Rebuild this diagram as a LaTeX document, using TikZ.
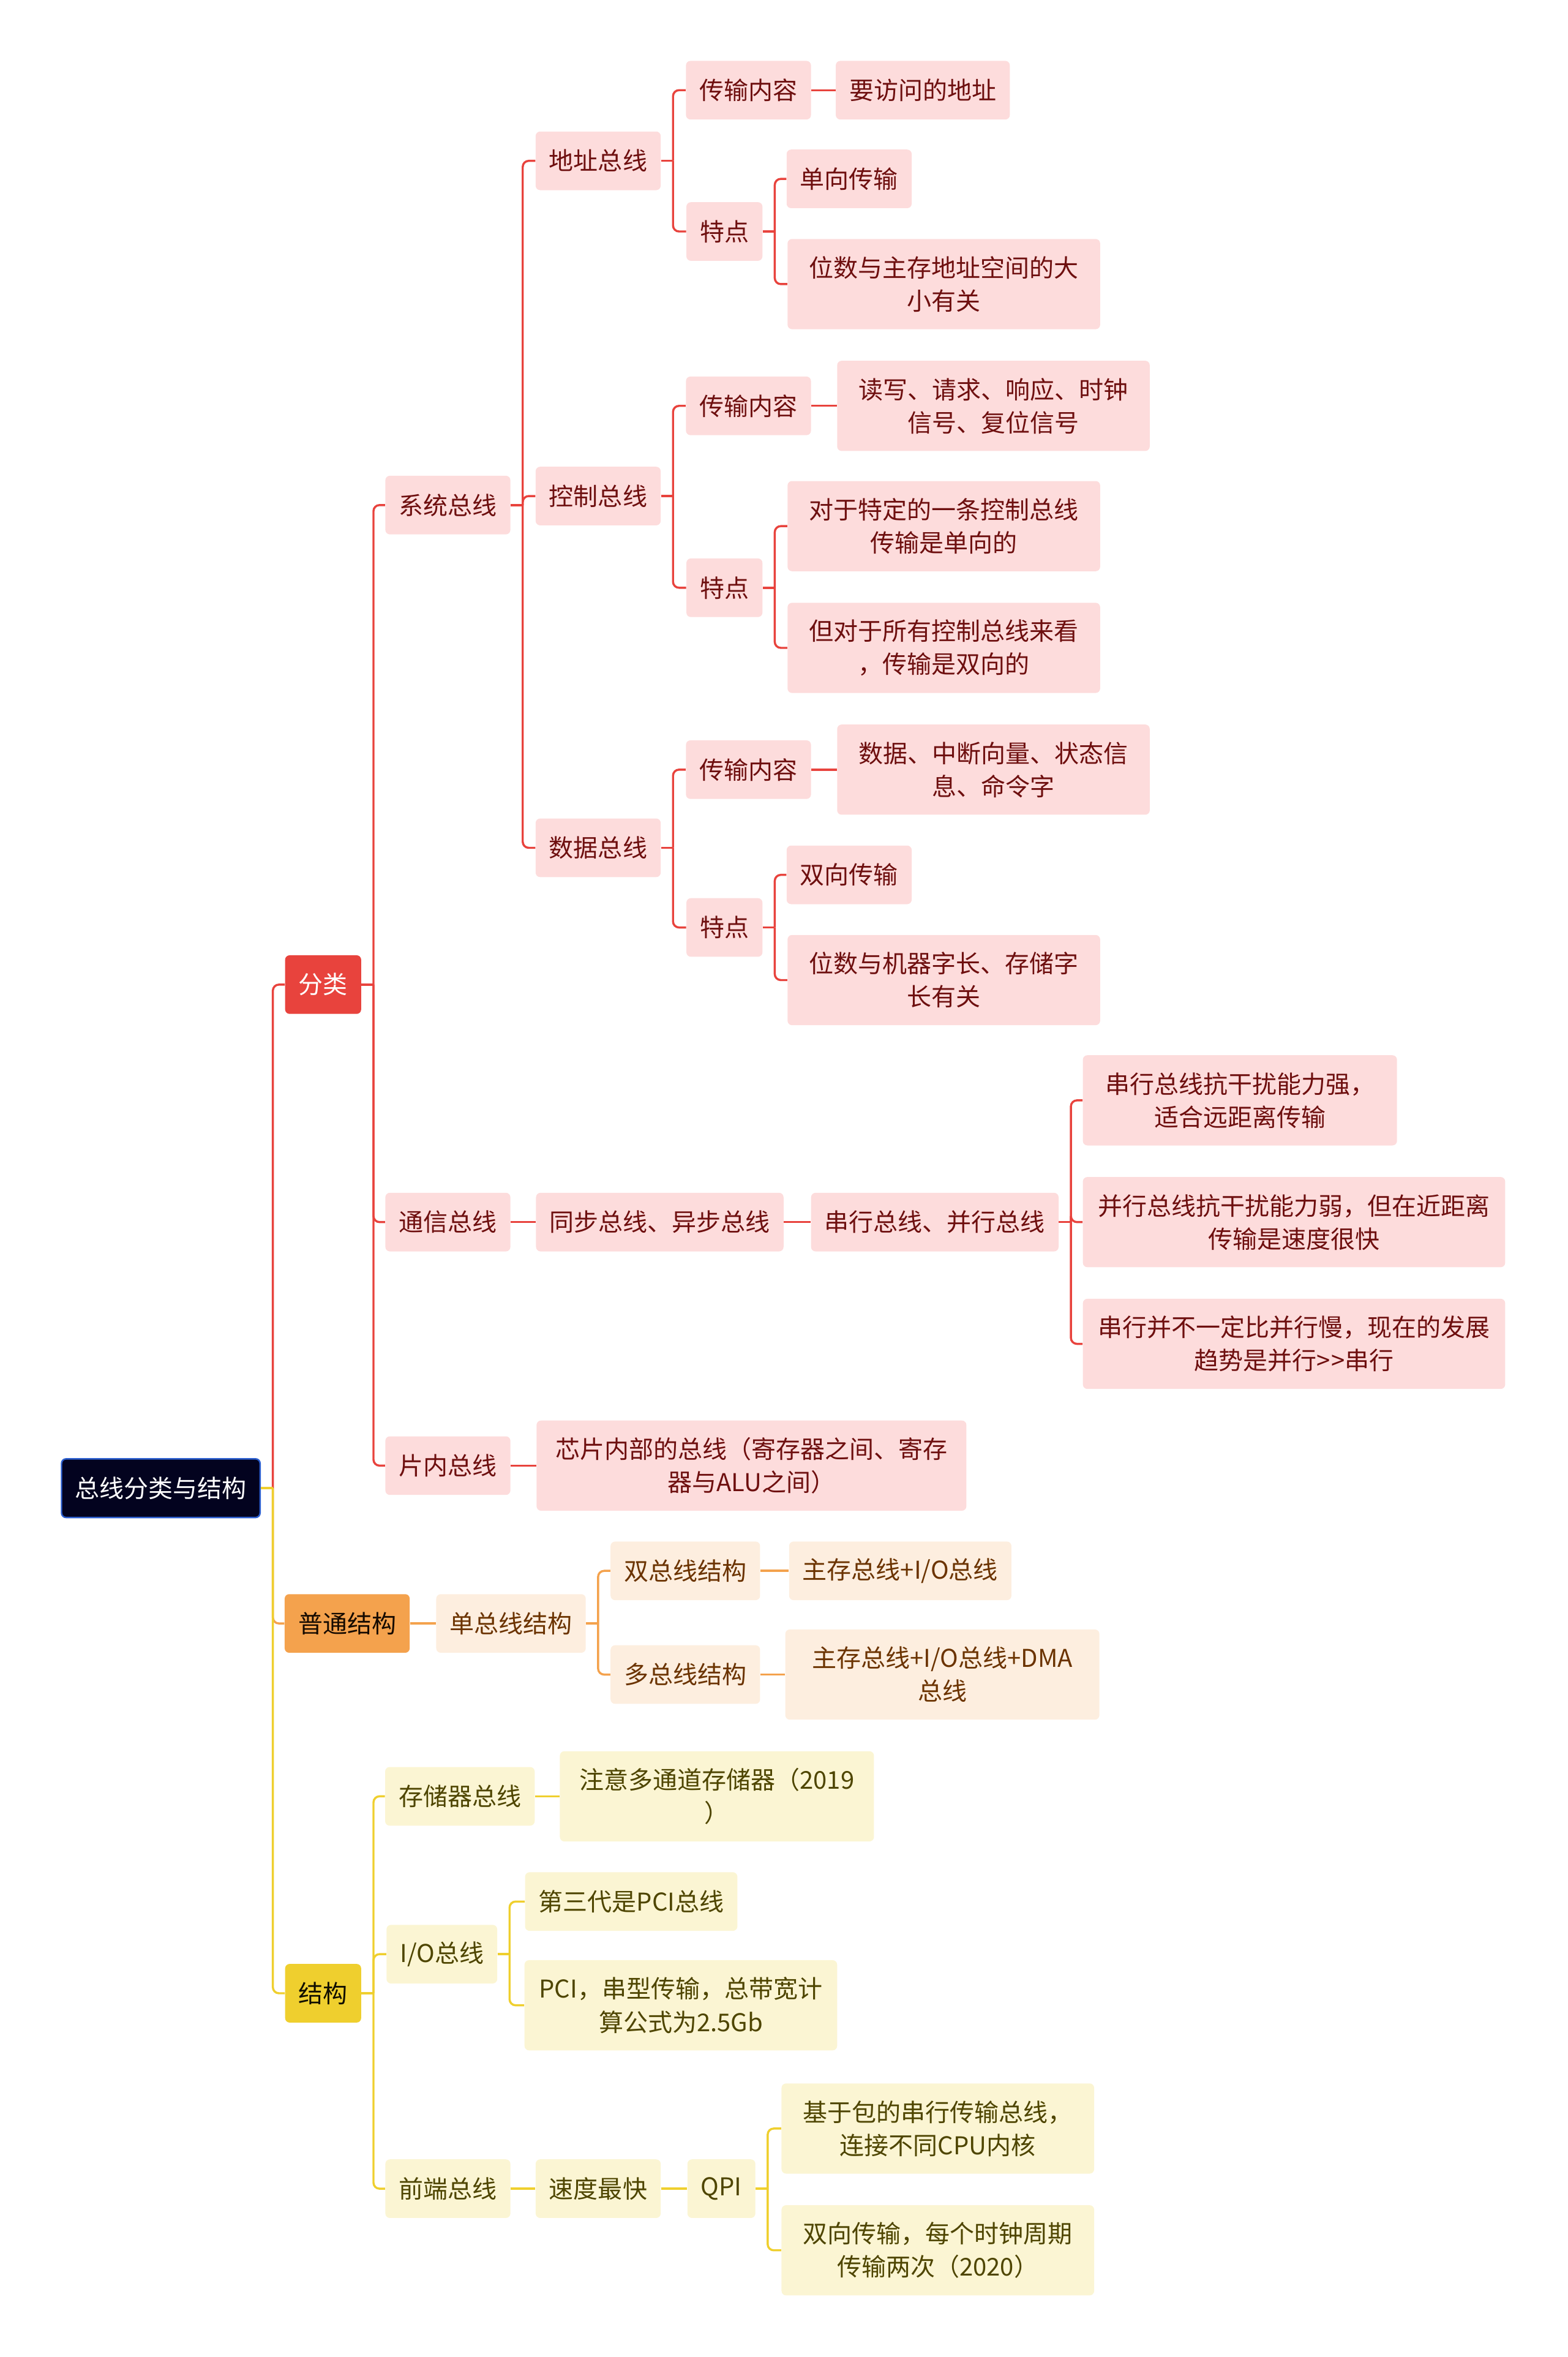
\documentclass[tikz,border=0pt]{standalone}
\usepackage{fontspec}
\setmainfont{Noto Sans CJK SC}
\usepackage{tikz}

\definecolor{rootbg}{HTML}{03031F}
\definecolor{rootbd}{HTML}{2C5FCF}
\definecolor{rmain}{HTML}{E8433D}
\definecolor{rfill}{HTML}{FDDCDC}
\definecolor{rtext}{HTML}{6E0F0F}
\definecolor{omain}{HTML}{F4A24D}
\definecolor{ofill}{HTML}{FDEEDF}
\definecolor{otext}{HTML}{6B3300}
\definecolor{ymain}{HTML}{EFCF2E}
\definecolor{yfill}{HTML}{FBF5D3}
\definecolor{ytext}{HTML}{4E4500}

% 父节点右侧短线 + 圆角折线到子节点
\newcommand\branchline[3]{%
  \draw[#3] (#1.east) -- ([xshift=8pt]#1.east);
  \draw[#3,rounded corners=4pt] ([xshift=8pt]#1.east) |- (#2.west);}

\begin{document}
\begin{tikzpicture}[x=1pt,y=-1pt,
    font=\fontsize{16.3}{22}\selectfont,
    box/.style={rounded corners=3pt, inner xsep=9pt, inner ysep=3pt, minimum height=39pt},
    rbox/.style={box, fill=rfill, text=rtext},
    obox/.style={box, fill=ofill, text=otext},
    ybox/.style={box, fill=yfill, text=ytext},
    twol/.style={align=center, minimum height=60pt, minimum width=#1},
    rline/.style={rmain, line width=1.4pt},
    oline/.style={omain, line width=1.4pt},
    yline/.style={ymain, line width=1.4pt}]
  \useasboundingbox (0,0) rectangle (1043,1568);

  % 根节点与三个一级分支
  \node[box, fill=rootbg, draw=rootbd, line width=1pt, text=white] (root) at (107,990) {总线分类与结构};
  \node[box, fill=rmain, text=white] (fl) at (215,655) {分类};
  \node[box, fill=omain, text=black!80!otext] (pt) at (231,1080) {普通结构};
  \node[box, fill=ymain, text=black!80!ytext] (jg) at (215,1326) {结构};

  % 分类：系统总线
  \node[rbox] (xt) at (298,336) {系统总线};
  \node[rbox] (dz) at (398,107) {地址总线};
  \node[rbox] (dzA) at (498,60) {传输内容};
  \node[rbox] (dzA1) at (614,60) {要访问的地址};
  \node[rbox] (dzB) at (482,154) {特点};
  \node[rbox] (dzB1) at (565,119) {单向传输};
  \node[rbox, twol=208pt] (dzB2) at (628,189) {位数与主存地址空间的大\\小有关};
  \node[rbox] (kz) at (398,330) {控制总线};
  \node[rbox] (kzA) at (498,270) {传输内容};
  \node[rbox, twol=208pt] (kzA1) at (661,270) {读写、请求、响应、时钟\\信号、复位信号};
  \node[rbox] (kzB) at (482,391) {特点};
  \node[rbox, twol=208pt] (kzB1) at (628,350) {对于特定的一条控制总线\\传输是单向的};
  \node[rbox, twol=208pt] (kzB2) at (628,431) {但对于所有控制总线来看\\，传输是双向的};
  \node[rbox] (sj) at (398,564) {数据总线};
  \node[rbox] (sjA) at (498,512) {传输内容};
  \node[rbox, twol=208pt] (sjA1) at (661,512) {数据、中断向量、状态信\\息、命令字};
  \node[rbox] (sjB) at (482,617) {特点};
  \node[rbox] (sjB1) at (565,582) {双向传输};
  \node[rbox, twol=208pt] (sjB2) at (628,652) {位数与机器字长、存储字\\长有关};

  % 分类：通信总线、片内总线
  \node[rbox] (tx) at (298,813) {通信总线};
  \node[rbox] (txA) at (439,813) {同步总线、异步总线};
  \node[rbox] (txB) at (622,813) {串行总线、并行总线};
  \node[rbox, twol=209pt] (txB1) at (825,732) {串行总线抗干扰能力强，\\适合远距离传输};
  \node[rbox, twol=281pt] (txB2) at (861,813) {并行总线抗干扰能力弱，但在近距离\\传输是速度很快};
  \node[rbox, twol=281pt] (txB3) at (861,894) {串行并不一定比并行慢，现在的发展\\趋势是并行>\kern1pt>串行};
  \node[rbox] (pn) at (298,975) {片内总线};
  \node[rbox, twol=286pt] (pnA) at (500,975) {芯片内部的总线（寄存器之间、寄存\\器与ALU之间）};

  % 普通结构
  \node[obox] (ptA) at (340,1080) {单总线结构};
  \node[obox] (ptB) at (456,1045) {双总线结构};
  \node[obox] (ptB1) at (599,1045) {主存总线+I/O总线};
  \node[obox] (ptC) at (456,1114) {多总线结构};
  \node[obox, twol=209pt] (ptC1) at (627,1114) {主存总线+I/O总线+DMA\\总线};

  % 结构
  \node[ybox] (cc) at (306,1195) {存储器总线};
  \node[ybox, twol=209pt] (ccA) at (477,1195) {注意多通道存储器（2019\\）};
  \node[ybox] (io) at (294,1300) {I/O总线};
  \node[ybox] (ioA) at (420,1265) {第三代是PCI总线};
  \node[ybox, twol=208pt] (ioB) at (453,1334) {PCI，串型传输，总带宽计\\算公式为2.5Gb};
  \node[ybox] (qd) at (298,1456) {前端总线};
  \node[ybox] (qdA) at (398,1456) {速度最快};
  \node[ybox] (qdB) at (480,1456) {QPI};
  \node[ybox, twol=208pt] (qdB1) at (624,1416) {基于包的串行传输总线，\\连接不同CPU内核};
  \node[ybox, twol=208pt] (qdB2) at (624,1497) {双向传输，每个时钟周期\\传输两次（2020）};

  % 连线
  \branchline{root}{fl}{rline}
  \branchline{root}{pt}{oline}
  \branchline{root}{jg}{yline}

  \branchline{fl}{xt}{rline}
  \branchline{fl}{tx}{rline}
  \branchline{fl}{pn}{rline}
  \branchline{xt}{dz}{rline}
  \branchline{xt}{kz}{rline}
  \branchline{xt}{sj}{rline}
  \branchline{dz}{dzA}{rline}
  \branchline{dz}{dzB}{rline}
  \draw[rline] (dzA) -- (dzA1);
  \branchline{dzB}{dzB1}{rline}
  \branchline{dzB}{dzB2}{rline}
  \branchline{kz}{kzA}{rline}
  \branchline{kz}{kzB}{rline}
  \draw[rline] (kzA) -- (kzA1);
  \branchline{kzB}{kzB1}{rline}
  \branchline{kzB}{kzB2}{rline}
  \branchline{sj}{sjA}{rline}
  \branchline{sj}{sjB}{rline}
  \draw[rline] (sjA) -- (sjA1);
  \branchline{sjB}{sjB1}{rline}
  \branchline{sjB}{sjB2}{rline}
  \draw[rline] (tx) -- (txA);
  \draw[rline] (txA) -- (txB);
  \branchline{txB}{txB1}{rline}
  \branchline{txB}{txB2}{rline}
  \branchline{txB}{txB3}{rline}
  \draw[rline] (pn) -- (pnA);

  \draw[oline] (pt) -- (ptA);
  \branchline{ptA}{ptB}{oline}
  \branchline{ptA}{ptC}{oline}
  \draw[oline] (ptB) -- (ptB1);
  \draw[oline] (ptC) -- (ptC1);

  \branchline{jg}{cc}{yline}
  \branchline{jg}{io}{yline}
  \branchline{jg}{qd}{yline}
  \draw[yline] (cc) -- (ccA);
  \branchline{io}{ioA}{yline}
  \branchline{io}{ioB}{yline}
  \draw[yline] (qd) -- (qdA);
  \draw[yline] (qdA) -- (qdB);
  \branchline{qdB}{qdB1}{yline}
  \branchline{qdB}{qdB2}{yline}
\end{tikzpicture}
\end{document}
